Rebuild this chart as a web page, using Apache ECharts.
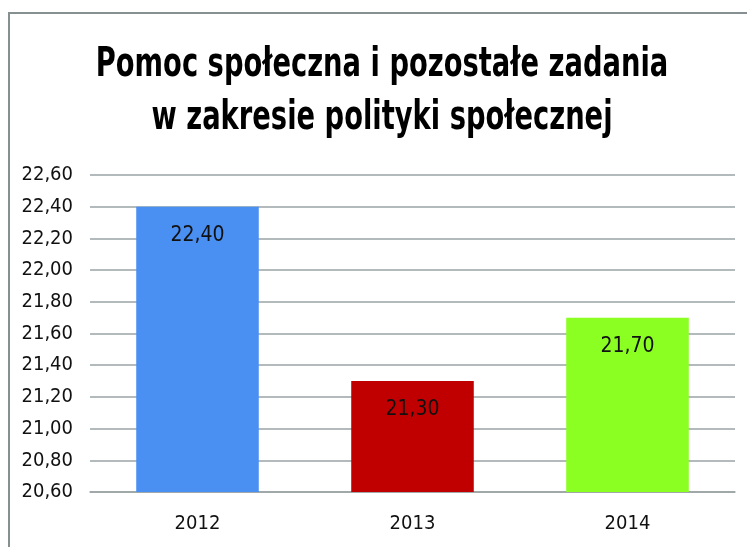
<!DOCTYPE html>
<html>
<head>
<meta charset="utf-8">
<script src="https://cdn.jsdelivr.net/npm/echarts@6/dist/echarts.min.js"></script>
<style>
  html, body { margin: 0; padding: 0; background: #fff; }
  #main { width: 747px; height: 547px; }
</style>
</head>
<body>
<div id="main"></div>
<script>
  // chart data
  const years = ['2012', '2013', '2014'];
  const amounts = [22.40, 21.30, 21.70];
  const barColors = ['#4a8ff2', '#c00000', '#8cff22'];
  const titleLines = ['Pomoc społeczna i pozostałe zadania', 'w zakresie polityki społecznej'];

  const font = '"DejaVu Sans Condensed", "Liberation Sans Narrow", sans-serif';
  const fmt = v => v.toFixed(2).replace('.', ',');

  // title drawn as narrow text (the original uses a condensed bold face)
  const titleText = (txt, y) => ({
    type: 'text',
    x: 382,
    y: y,
    scaleX: 0.76,
    silent: true,
    style: {
      text: txt,
      x: 0,
      y: 0,
      align: 'center',
      verticalAlign: 'middle',
      fontFamily: font,
      fontWeight: 'bold',
      fontSize: 40,
      fill: '#000'
    }
  });

  const myChart = echarts.init(document.getElementById('main'));
  const option = {
    backgroundColor: '#fff',
    animation: false,
    graphic: [
      {
        type: 'rect',
        shape: { x: 9, y: 13, width: 800, height: 600 },
        style: { fill: 'none', stroke: '#879091', lineWidth: 2 },
        silent: true
      },
      titleText(titleLines[0], 66),
      titleText(titleLines[1], 119)
    ],
    grid: { left: 90, right: 12, top: 175, bottom: 55 },
    xAxis: {
      type: 'category',
      data: years,
      axisTick: { show: false },
      axisLine: { lineStyle: { color: '#9aa3a4', width: 1.5 } },
      axisLabel: {
        fontFamily: font,
        fontSize: 20,
        color: '#111',
        margin: 22
      }
    },
    yAxis: {
      type: 'value',
      min: 20.6,
      max: 22.6,
      interval: 0.2,
      axisLine: { show: false },
      axisTick: { show: false },
      splitLine: { lineStyle: { color: '#9aa3a4', width: 1.5 } },
      axisLabel: {
        fontFamily: font,
        fontSize: 20,
        color: '#111',
        margin: 17,
        formatter: v => fmt(v)
      }
    },
    series: [
      {
        type: 'bar',
        barWidth: '57%',
        data: amounts.map((v, i) => ({ value: v, itemStyle: { color: barColors[i] } })),
        label: {
          show: true,
          position: 'insideTop',
          distance: 18,
          fontFamily: font,
          fontSize: 21,
          color: '#111',
          formatter: p => fmt(p.value)
        }
      }
    ]
  };
  option && myChart.setOption(option);
</script>
</body>
</html>
